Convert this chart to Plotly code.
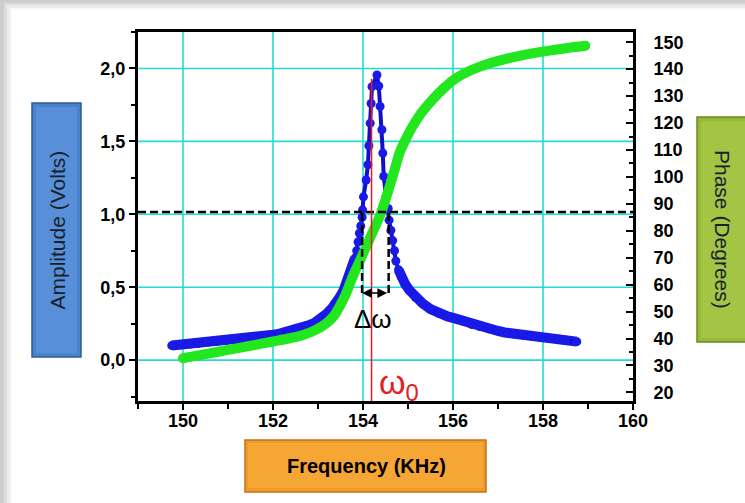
import plotly.graph_objects as go

# ---------------- data ----------------
amp_freq = [149.75, 149.95, 150.15, 150.35, 150.55, 150.75, 150.95, 151.15, 151.35, 151.55,
            151.75, 151.95, 152.15, 152.35, 152.55, 152.75, 152.9, 153.05, 153.2, 153.32,
            153.42, 153.48, 153.57, 153.63, 153.7, 153.77, 153.82, 153.86, 153.89, 153.92,
            153.95, 153.98, 153.99, 154.01, 154.07, 154.11, 154.13, 154.16, 154.18, 154.2,
            154.31, 154.35, 154.38, 154.42, 154.44, 154.46, 154.51, 154.56, 154.58, 154.62,
            154.66, 154.7, 154.73, 154.79, 154.85, 154.94, 155.03, 155.17, 155.32, 155.5,
            155.69, 155.88, 156.06, 156.25, 156.41, 156.6, 156.8, 157.0, 157.15, 157.35,
            157.55, 157.75, 157.95, 158.15, 158.35, 158.5, 158.75]
amp_volts = [0.10, 0.105, 0.11, 0.115, 0.122, 0.128, 0.135, 0.142, 0.148, 0.155,
             0.162, 0.172, 0.182, 0.195, 0.213, 0.235, 0.252, 0.28, 0.32, 0.36,
             0.39, 0.43, 0.48, 0.53, 0.585, 0.64, 0.70, 0.75, 0.81, 0.87,
             0.92, 0.98, 1.03, 1.12, 1.235, 1.34, 1.47, 1.625, 1.76, 1.875,
             1.955, 1.88, 1.74, 1.58, 1.42, 1.26, 1.12, 1.04, 0.96, 0.89,
             0.82, 0.75, 0.68, 0.62, 0.57, 0.52, 0.48, 0.43, 0.39, 0.35,
             0.32, 0.30, 0.285, 0.265, 0.245, 0.23, 0.215, 0.20, 0.19, 0.18,
             0.172, 0.165, 0.157, 0.15, 0.143, 0.137, 0.127]

phase_freq = [150.0, 150.5, 151.0, 151.5, 152.0, 152.35, 152.67, 152.95, 153.19, 153.35,
              153.48, 153.62, 153.77, 153.92, 154.07, 154.22, 154.37, 154.48, 154.59, 154.7,
              154.81, 154.95, 155.1, 155.3, 155.54, 155.8, 156.06, 156.4, 156.8, 157.2,
              157.61, 157.95, 158.27, 158.6, 158.94]
phase_deg = [32.7, 34.2, 35.8, 37.3, 38.9, 40.0, 41.3, 43.2, 45.7, 48.3,
             51.9, 56.5, 63.0, 68.5, 74.1, 79.7, 85.3, 90.5, 96.4, 102.5,
             108.8, 114.0, 118.7, 123.8, 128.6, 133.0, 136.6, 139.6, 142.1, 143.9,
             145.4, 146.4, 147.2, 148.0, 148.7]

freq_ticks = [150, 152, 154, 156, 158, 160]
amp_ticks = [0.0, 0.5, 1.0, 1.5, 2.0]

half_level = 1.015      # dashed horizontal level (V)
f_low = 153.98          # left band edge (kHz)
f_high = 154.57         # right band edge (kHz)
f_res = 154.19          # resonance frequency (kHz)
peak_level = 1.93
arrow_level = 0.46

x_range = [149.0, 160.0001]
y_range = [-0.28, 2.25]
y2_range = [16.8, 153.8]

# ---------------- figure ----------------
fig = go.Figure()

# dense tails of the amplitude curve appear as a thick band
tail_x, tail_y = [], []
for f, a in zip(amp_freq, amp_volts):
    if f <= f_low - 0.15:
        tail_x.append(f); tail_y.append(a)
tail_x.append(None); tail_y.append(None)
for f, a in zip(amp_freq, amp_volts):
    if f >= f_high + 0.2:
        tail_x.append(f); tail_y.append(a)
fig.add_trace(go.Scatter(
    x=tail_x, y=tail_y, mode="lines", connectgaps=False,
    line=dict(color="#1a1ae8", width=10), hoverinfo="skip"))

fig.add_trace(go.Scatter(
    x=amp_freq, y=amp_volts, mode="lines+markers",
    line=dict(color="#1010c8", width=4),
    marker=dict(color="#1a1ae8", size=9), hoverinfo="skip"))

fig.add_trace(go.Scatter(
    x=phase_freq, y=phase_deg, yaxis="y2", mode="lines",
    line=dict(color="#22e61e", width=10, shape="spline", smoothing=0.6), hoverinfo="skip"))
# round end caps for the thick phase line
fig.add_trace(go.Scatter(
    x=[phase_freq[0], phase_freq[-1]], y=[phase_deg[0], phase_deg[-1]], yaxis="y2",
    mode="markers", marker=dict(color="#22e61e", size=10), hoverinfo="skip"))

tickfont = dict(family="Liberation Sans, Arial, sans-serif", size=18, color="black", weight="bold")
grid_col = "#22dcd2"

fig.update_layout(
    width=745, height=503,
    margin=dict(l=138, r=112, t=32, b=102, autoexpand=False),
    paper_bgcolor="#cdcdcd",
    plot_bgcolor="rgba(0,0,0,0)",
    showlegend=False,
    separators=",.",
    xaxis=dict(range=x_range, tickvals=freq_ticks, showgrid=False,
               zeroline=False, showline=True, linecolor="black", linewidth=3, mirror=True,
               automargin=False, ticklabelstandoff=-5,
               ticks="outside", ticklen=6, tickwidth=2, tickcolor="black", tickfont=tickfont,
               minor=dict(dtick=1, tick0=149, ticks="outside", ticklen=5, tickwidth=2,
                          tickcolor="black", showgrid=False)),
    yaxis=dict(range=y_range, tickvals=amp_ticks, tickformat=".1f", showgrid=False,
               zeroline=False, showline=True,
               linecolor="black", linewidth=3, mirror=True, automargin=False,
               ticks="outside", ticklen=6, tickwidth=2, tickcolor="black", tickfont=tickfont,
               minor=dict(dtick=0.25, tick0=0, ticks="outside", ticklen=4, tickwidth=2,
                          tickcolor="black", showgrid=False)),
    yaxis2=dict(range=y2_range, overlaying="y", side="right", tick0=0, dtick=10,
                showgrid=False, zeroline=False, showline=True, linecolor="black", linewidth=3,
                automargin=False,
                ticks="inside", ticklen=7, tickwidth=2, tickcolor="black", tickfont=tickfont,
                ticklabelstandoff=14,
                minor=dict(dtick=5, tick0=0, ticks="inside", ticklen=4, tickwidth=2,
                           tickcolor="black", showgrid=False)),
)

# plot area in pixels: x 138..633, y 32..401
def xp(px):
    return (px - 138) / 495.0

def yp(py):
    return (401 - py) / 369.0

shapes = []
# page background with soft gray border on top/left
for off, col in [(4, "#dedede"), (7, "#ececec"), (10, "#f7f7f7"), (12, "#ffffff")]:
    shapes.append(dict(type="rect", xref="paper", yref="paper", layer="below",
                       x0=xp(off), x1=xp(900), y0=yp(700), y1=yp(off * 0.8),
                       fillcolor=col, line=dict(width=0)))
# label boxes
shapes.append(dict(type="rect", xref="paper", yref="paper", layer="below",
                   x0=xp(32), x1=xp(81), y0=yp(357), y1=yp(103),
                   fillcolor="#4a82cc", line=dict(color="#2d5c99", width=1.5)))
shapes.append(dict(type="rect", xref="paper", yref="paper", layer="below",
                   x0=xp(36), x1=xp(77), y0=yp(353), y1=yp(107),
                   fillcolor="#5790d8", line=dict(width=0)))
shapes.append(dict(type="rect", xref="paper", yref="paper", layer="below",
                   x0=xp(697), x1=xp(770), y0=yp(342), y1=yp(117),
                   fillcolor="#98b83a", line=dict(color="#6c8824", width=1.5)))
shapes.append(dict(type="rect", xref="paper", yref="paper", layer="below",
                   x0=xp(701), x1=xp(770), y0=yp(338), y1=yp(121),
                   fillcolor="#a4c444", line=dict(width=0)))
shapes.append(dict(type="rect", xref="paper", yref="paper", layer="below",
                   x0=xp(245), x1=xp(486), y0=yp(492), y1=yp(440),
                   fillcolor="#f09a2a", line=dict(color="#c47214", width=1.5)))
shapes.append(dict(type="rect", xref="paper", yref="paper", layer="below",
                   x0=xp(248), x1=xp(483), y0=yp(488), y1=yp(443),
                   fillcolor="#f6a634", line=dict(width=0)))
# grid lines at the tick values
for f in freq_ticks[:-1]:
    shapes.append(dict(type="line", xref="x", yref="paper", layer="below",
                       x0=f, x1=f, y0=0, y1=1, line=dict(color=grid_col, width=1.6)))
for a in amp_ticks:
    shapes.append(dict(type="line", xref="paper", yref="y", layer="below",
                       x0=0, x1=1, y0=a, y1=a, line=dict(color=grid_col, width=1.6)))
# dashed half-level line
shapes.append(dict(type="line", xref="paper", yref="y", x0=0, x1=1, y0=half_level, y1=half_level,
                   line=dict(color="black", width=2.5, dash="8px,4px")))
# band edges
for f in (f_low, f_high):
    shapes.append(dict(type="line", xref="x", yref="y", x0=f, x1=f, y0=arrow_level, y1=half_level,
                       line=dict(color="black", width=2.5, dash="8px,4px")))
# resonance line
shapes.append(dict(type="line", xref="x", yref="y", x0=f_res, x1=f_res, y0=y_range[0], y1=peak_level,
                   line=dict(color="#f01820", width=1.5)))
fig.update_layout(shapes=shapes)

box_font = dict(family="Liberation Sans, Arial, sans-serif", size=21, color="#17202c")
annotations = [
    dict(xref="paper", yref="paper", x=xp(56.5), y=yp(230), text="Amplitude (Volts)",
         textangle=-90, showarrow=False, font=box_font, xanchor="center", yanchor="middle"),
    dict(xref="paper", yref="paper", x=xp(723), y=yp(229), text="Phase (Degrees)",
         textangle=90, showarrow=False, font=box_font, xanchor="center", yanchor="middle"),
    dict(xref="paper", yref="paper", x=xp(366), y=yp(466), text="Frequency (KHz)",
         showarrow=False, xanchor="center", yanchor="middle",
         font=dict(family="Liberation Sans, Arial, sans-serif", size=20, color="black", weight="bold")),
    dict(xref="x", yref="y", x=f_low, y=arrow_level, ax=f_high, ay=arrow_level,
         axref="x", ayref="y", text="", showarrow=True, arrowside="end+start",
         arrowhead=2, arrowsize=1.3, arrowwidth=1.5, arrowcolor="black",
         startarrowhead=2, startarrowsize=1.3),
    dict(xref="x", yref="y", x=154.23, y=0.28, text="Δω", showarrow=False,
         font=dict(family="Liberation Sans, Arial, sans-serif", size=26, color="black")),
    dict(xref="x", yref="y", x=154.8, y=-0.17, text="ω<sub>0</sub>", showarrow=False,
         font=dict(family="Liberation Sans, Arial, sans-serif", size=34, color="#e3201e")),
]
fig.update_layout(annotations=annotations)

fig.write_html("out.html", config={"displayModeBar": False},
               post_script="document.body.style.margin='0px';")
